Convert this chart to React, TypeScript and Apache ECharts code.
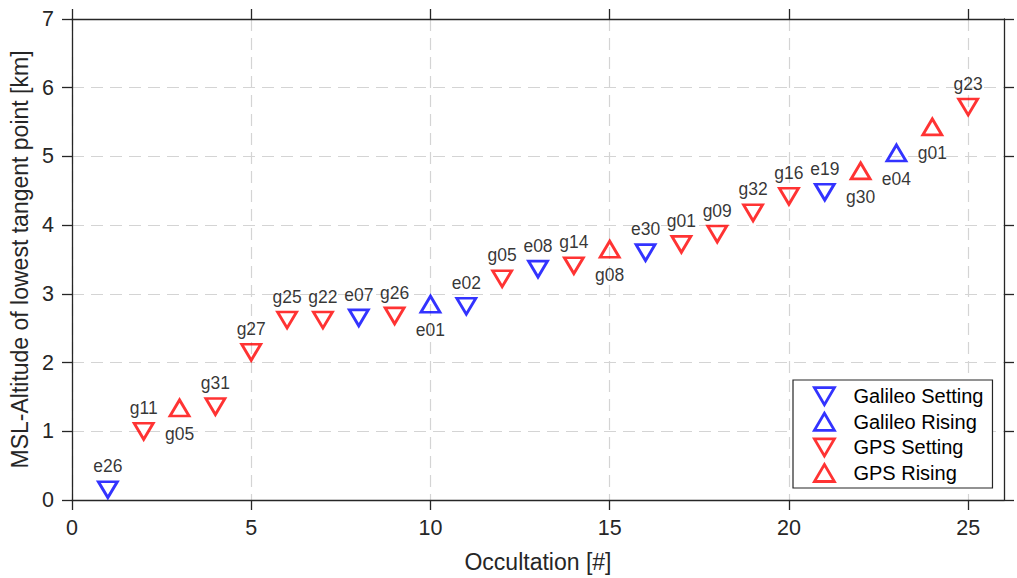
import React, { useEffect, useRef } from "react";
import * as echarts from "echarts";

// ---- data ----
const occultation = [1, 2, 3, 4, 5, 6, 7, 8, 9, 10, 11, 12, 13, 14, 15, 16, 17, 18, 19, 20, 21, 22, 23, 24, 25];
const altitude = [0.15, 1.0, 1.34, 1.36, 2.15, 2.62, 2.62, 2.65, 2.68, 2.85, 2.82, 3.22, 3.36, 3.41, 3.65, 3.6, 3.72, 3.87, 4.18, 4.42, 4.48, 4.79, 5.05, 5.43, 5.72];
const prn = ["e26", "g11", "g05", "g31", "g27", "g25", "g22", "e07", "g26", "e01", "e02", "g05", "e08", "g14", "g08", "e30", "g01", "g09", "g32", "g16", "e19", "g30", "e04", "g01", "g23"];
// GS = Galileo Setting, GR = Galileo Rising, PS = GPS Setting, PR = GPS Rising
const kind = ["GS", "PS", "PR", "PS", "PS", "PS", "PS", "GS", "PS", "GR", "GS", "PS", "GS", "PS", "PR", "GS", "PS", "PS", "PS", "PS", "GS", "PR", "GR", "PR", "PS"];

const seriesDefs = [
  { key: "GS", name: "Galileo Setting", color: "#0000ff", rising: false },
  { key: "GR", name: "Galileo Rising", color: "#0000ff", rising: true },
  { key: "PS", name: "GPS Setting", color: "#ff0000", rising: false },
  { key: "PR", name: "GPS Rising", color: "#ff0000", rising: true },
];

const xTicks = [0, 5, 10, 15, 20, 25];

const FONT = "'Liberation Sans', Arial, Helvetica, sans-serif";
const AX = "#262626";
const DOWN = "path://M0 0L20 0L10 17Z";
const UP = "path://M10 0L20 17L0 17Z";

export default function App() {
  const ref = useRef<HTMLDivElement>(null);
  useEffect(() => {
    if (!ref.current) return;
    const chart = echarts.init(ref.current, undefined, { renderer: "svg" });
    const axisLine = { show: true, onZero: false, lineStyle: { color: AX, width: 1.3 } };
    const tick = (vals?: number[]) => ({
      show: true,
      inside: false,
      length: 10,
      lineStyle: { color: AX, width: 1.3 },
      ...(vals ? { customValues: vals } : {}),
    });
    const split = { show: true, lineStyle: { color: "#d4d4d4", width: 1.2, type: [12, 7] } };

    const series = seriesDefs.map((s) => {
      const data: any[] = [];
      occultation.forEach((x, i) => {
        if (kind[i] === s.key) data.push([x, altitude[i], prn[i]]);
      });
      return {
        type: "scatter",
        name: s.name,
        data,
        symbol: s.rising ? UP : DOWN,
        symbolSize: [19, 16],
        xAxisIndex: 0,
        yAxisIndex: 0,
        z: 5,
        itemStyle: { color: "transparent", borderColor: s.color, borderWidth: 2.8 },
        label: {
          show: true,
          position: s.rising ? "bottom" : "top",
          distance: s.rising ? 7.5 : 5,
          formatter: (p: any) => p.value[2],
          color: "#000",
          fontSize: 17.5,
          fontFamily: FONT,
        },
        emphasis: { disabled: true },
      };
    });

    chart.setOption({
      animation: false,
      backgroundColor: "#ffffff",
      textStyle: { fontFamily: FONT },
      grid: { left: 72, top: 19, width: 932, height: 481, containLabel: false },
      xAxis: [
        {
          type: "value",
          position: "bottom",
          min: 0,
          max: 26,
          interval: 5,
          axisLine,
          axisTick: tick(xTicks),
          axisLabel: { show: true, customValues: xTicks, fontSize: 21.5, margin: 17, color: AX, fontFamily: FONT },
          splitLine: split,
          name: "Occultation [#]",
          nameLocation: "middle",
          nameGap: 50,
          nameTextStyle: { fontSize: 23, color: AX, fontFamily: FONT },
        },
        {
          type: "value",
          position: "top",
          min: 0,
          max: 26,
          interval: 5,
          axisLine,
          axisTick: tick(xTicks),
          axisLabel: { show: false },
          splitLine: { show: false },
        },
      ],
      yAxis: [
        {
          type: "value",
          position: "left",
          min: 0,
          max: 7,
          interval: 1,
          axisLine,
          axisTick: tick(),
          axisLabel: { show: true, fontSize: 21.5, margin: 18, color: AX, fontFamily: FONT },
          splitLine: split,
          name: "MSL-Altitude of lowest tangent point [km]",
          nameLocation: "middle",
          nameGap: 39,
          nameTextStyle: { fontSize: 23, color: AX, fontFamily: FONT },
        },
        {
          type: "value",
          position: "right",
          min: 0,
          max: 7,
          interval: 1,
          axisLine,
          axisTick: tick(),
          axisLabel: { show: false },
          splitLine: { show: false },
        },
      ],
      legend: {
        show: true,
        orient: "vertical",
        align: "left",
        left: 793,
        top: 380,
        backgroundColor: "#ffffff",
        borderColor: AX,
        borderWidth: 1.2,
        borderRadius: 0,
        padding: [6.2, 9, 5, 20],
        itemWidth: 20,
        itemHeight: 17,
        itemGap: 5.6,
        selectedMode: false,
        textStyle: { fontSize: 20, color: "#000", fontFamily: FONT, lineHeight: 17, padding: [0, 0, 0, 14] },
        data: seriesDefs.map((s) => ({
          name: s.name,
          icon: s.rising ? UP : DOWN,
          itemStyle: { color: "transparent", borderColor: s.color, borderWidth: 2.8 },
        })),
        z: 10,
      },
      series,
    });
    return () => chart.dispose();
  }, []);

  return (
    <div
      ref={ref}
      style={{ position: "fixed", left: 0, top: 0, width: 1017, height: 578, background: "#fff" }}
    />
  );
}
